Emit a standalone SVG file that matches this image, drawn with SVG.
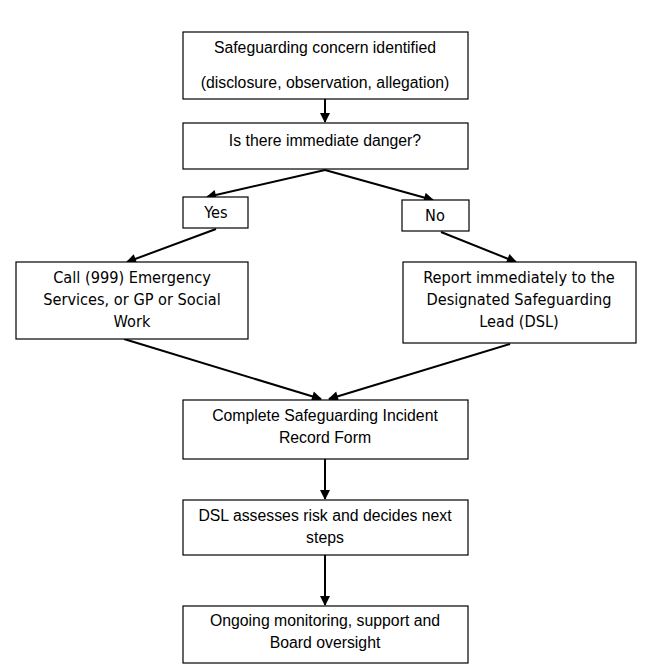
<svg xmlns="http://www.w3.org/2000/svg" width="653" height="672" viewBox="0 0 653 672">
<style>
.box{fill:#fff;stroke:#000;stroke-width:1.2}
.t{font-family:"Liberation Sans",Arial,sans-serif;font-size:15.8px;fill:#000;text-anchor:middle}
.n{font-family:"Liberation Sans Narrow","DejaVu Sans Condensed","Liberation Sans",sans-serif;font-size:16.2px;fill:#000;text-anchor:middle}
</style>
<defs>
<marker id="ah2" viewBox="0 0 10 10" refX="9" refY="5" markerWidth="12" markerHeight="10" markerUnits="userSpaceOnUse" orient="auto"><path d="M0,0 L10,5 L0,10 z" fill="#000"/></marker>
</defs>
<rect width="653" height="672" fill="#fff"/>
<g id="connectors" stroke="#000" stroke-width="2" fill="none">
<line x1="325" y1="99" x2="325" y2="122" marker-end="url(#ah2)"/>
<line x1="325" y1="170" x2="207" y2="197" marker-end="url(#ah2)"/>
<line x1="325" y1="170" x2="433" y2="200" marker-end="url(#ah2)"/>
<line x1="216" y1="229" x2="127" y2="262" marker-end="url(#ah2)"/>
<line x1="441" y1="232" x2="516" y2="262" marker-end="url(#ah2)"/>
<line x1="124" y1="339" x2="321" y2="399" marker-end="url(#ah2)"/>
<line x1="510" y1="344" x2="329" y2="399" marker-end="url(#ah2)"/>
<line x1="325" y1="459" x2="325" y2="499" marker-end="url(#ah2)"/>
<line x1="325" y1="555" x2="325" y2="605" marker-end="url(#ah2)"/>
</g>
<g id="n1"><rect class="box" x="183" y="32" width="285" height="67"/>
<text class="t" x="325" y="53">Safeguarding concern identified</text>
<text class="t" x="325" y="88">(disclosure, observation, allegation)</text></g>
<g id="n2"><rect class="box" x="183" y="123" width="285" height="46"/>
<text class="t" x="325" y="146">Is there immediate danger?</text></g>
<g id="n3"><rect class="box" x="183" y="197" width="65" height="31"/>
<text class="n" x="216" y="218">Yes</text></g>
<g id="n4"><rect class="box" x="402" y="200" width="67" height="31"/>
<text class="n" x="435" y="221">No</text></g>
<g id="n5"><rect class="box" x="16" y="262" width="232" height="77"/>
<text class="n" x="132" y="283">Call (999) Emergency</text>
<text class="n" x="132" y="305">Services, or GP or Social</text>
<text class="n" x="132" y="327">Work</text></g>
<g id="n6"><rect class="box" x="403" y="262" width="233" height="81"/>
<text class="n" x="519" y="283">Report immediately to the</text>
<text class="n" x="519" y="305">Designated Safeguarding</text>
<text class="n" x="519" y="327">Lead (DSL)</text></g>
<g id="n7"><rect class="box" x="183" y="400" width="285" height="59"/>
<text class="t" x="325" y="421">Complete Safeguarding Incident</text>
<text class="t" x="325" y="443">Record Form</text></g>
<g id="n8"><rect class="box" x="183" y="500" width="285" height="55"/>
<text class="t" x="325" y="521">DSL assesses risk and decides next</text>
<text class="t" x="325" y="543">steps</text></g>
<g id="n9"><rect class="box" x="183" y="606" width="285" height="57"/>
<text class="t" x="325" y="626">Ongoing monitoring, support and</text>
<text class="t" x="325" y="648">Board oversight</text></g>
</svg>
